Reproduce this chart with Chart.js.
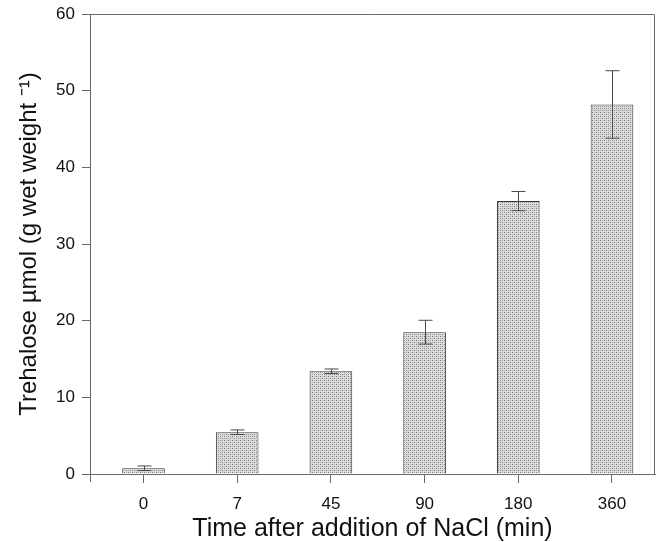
<!DOCTYPE html>
<html>
<head>
<meta charset="utf-8">
<script src="https://cdn.jsdelivr.net/npm/chart.js@4"></script>
<style>
  body { margin: 0; background: #fff; }
  #wrap { width: 659px; height: 542px; }
</style>
</head>
<body>
<div id="wrap"><canvas id="chart" width="659" height="542"></canvas></div>
<script>
// data
const timeLabels = ['0', '7', '45', '90', '180', '360'];
const trehalose = [0.75, 5.45, 13.4, 18.5, 35.6, 48.2];
const trehaloseErr = [0.3, 0.3, 0.3, 1.55, 1.25, 4.4];
const yTicks = [0, 10, 20, 30, 40, 50, 60];

const FONT = "'Liberation Sans', Arial, Helvetica, sans-serif";
const AXIS_COLOR = '#6a6a6a';

// stippled grey fill like the printed bars
function makeStipple() {
    const c = document.createElement('canvas');
    c.width = 4;
    c.height = 4;
    const g = c.getContext('2d');
    g.fillStyle = '#dcdcdc';
    g.fillRect(0, 0, 4, 4);
    g.fillStyle = '#7c7c7c';
    g.fillRect(0, 0, 1, 1);
    g.fillRect(2, 2, 1, 1);
    g.fillStyle = '#a8a8a8';
    g.fillRect(2, 0, 1, 1);
    g.fillRect(0, 2, 1, 1);
    return g.createPattern(c, 'repeat');
}

// error bars + the closed frame
const extrasPlugin = {
    id: 'extras',
    afterDatasetsDraw(chart) {
        const { ctx, scales: { x, y } } = chart;
        ctx.save();
        ctx.strokeStyle = '#4a4a4a';
        ctx.lineWidth = 1;
        trehalose.forEach((v, i) => {
            const px = Math.round(x.getPixelForValue(i)) + 0.5;
            const top = y.getPixelForValue(v + trehaloseErr[i]);
            const bot = y.getPixelForValue(v - trehaloseErr[i]);
            ctx.beginPath();
            ctx.moveTo(px, top);
            ctx.lineTo(px, bot);
            ctx.moveTo(px - 7, top);
            ctx.lineTo(px + 7, top);
            ctx.moveTo(px - 7, bot);
            ctx.lineTo(px + 7, bot);
            ctx.stroke();
        });
        ctx.restore();
    },
    afterDraw(chart) {
        const { ctx, chartArea: a } = chart;
        ctx.save();
        ctx.strokeStyle = AXIS_COLOR;
        ctx.lineWidth = 1;
        ctx.beginPath();
        ctx.moveTo(a.left, a.top + 0.5);
        ctx.lineTo(a.right - 0.5, a.top + 0.5);
        ctx.lineTo(a.right - 0.5, a.bottom);
        // left axis runs a little below zero
        ctx.moveTo(a.left + 0.5, a.bottom);
        ctx.lineTo(a.left + 0.5, a.bottom + 8);
        ctx.stroke();
        ctx.restore();
    }
};

const ctx = document.getElementById('chart').getContext('2d');

new Chart(ctx, {
    type: 'bar',
    data: {
        datasets: [{
            data: trehalose.map((v, i) => ({ x: i, y: v })),
            backgroundColor: makeStipple(),
            borderColor: '#3c3c3c',
            borderWidth: 1,
            borderSkipped: 'bottom',
            barPercentage: 0.455,
            categoryPercentage: 1
        }]
    },
    options: {
        responsive: false,
        animation: false,
        devicePixelRatio: 1,
        layout: { padding: { top: 14, right: 4, left: 0, bottom: 0 } },
        plugins: {
            legend: { display: false },
            tooltip: { enabled: false }
        },
        scales: {
            x: {
                type: 'linear',
                offset: false,
                min: -0.571,
                max: 5.459,
                afterFit: (s) => { s.height = 68; },
                afterBuildTicks: (s) => { s.ticks = timeLabels.map((_, i) => ({ value: i })); },
                grid: { offset: false, drawOnChartArea: false, tickLength: 9, color: AXIS_COLOR },
                border: { color: AXIS_COLOR },
                ticks: {
                    callback: (v) => timeLabels[v],
                    font: { family: FONT, size: 17 },
                    color: '#111',
                    padding: 11,
                    maxRotation: 0
                },
                title: {
                    display: true,
                    text: 'Time after addition of NaCl (min)',
                    font: { family: FONT, size: 25, lineHeight: 1.05 },
                    color: '#111',
                    padding: { top: 0, bottom: 0 }
                }
            },
            y: {
                min: 0,
                max: 60,
                afterFit: (s) => { s.width = 90; },
                afterBuildTicks: (s) => { s.ticks = yTicks.map((v) => ({ value: v })); },
                grid: { drawOnChartArea: false, tickLength: 8, color: AXIS_COLOR },
                border: { color: AXIS_COLOR },
                ticks: {
                    font: { family: FONT, size: 17, lineHeight: 0.8 },
                    color: '#111',
                    padding: 7
                },
                title: {
                    display: true,
                    text: 'Trehalose µmol (g wet weight ⁻¹)',
                    font: { family: FONT, size: 24, lineHeight: 1.1 },
                    color: '#111',
                    padding: { top: 16, bottom: 0 }
                }
            }
        }
    },
    plugins: [extrasPlugin]
});
</script>
</body>
</html>
